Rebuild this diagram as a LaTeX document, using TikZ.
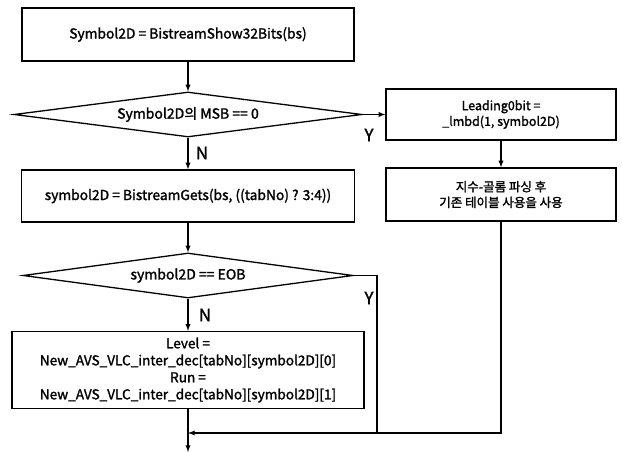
\documentclass[tikz,border=0pt]{standalone}
\usepackage{fontspec}
\setmainfont{Noto Sans CJK KR}[BoldFont={Noto Sans CJK KR}, BoldFeatures={FakeBold=1.6}]
\usetikzlibrary{shapes.geometric}

\begin{document}
\begin{tikzpicture}[x=1pt,y=-1pt,>=latex,line width=1.3pt,
    font=\bfseries\fontsize{13.8}{15.7}\selectfont,
    process/.style ={rectangle, draw, align=center, inner sep=0pt},
    side/.style ={process, minimum width=230pt, font=\bfseries\fontsize{12.5}{15.7}\selectfont},
    decision/.style ={diamond, draw, align=center, inner sep=0pt, aspect=7.5, font=\bfseries\fontsize{14}{15.7}\selectfont},
    yn/.style ={font=\bfseries\fontsize{17}{17}\selectfont}]
   \useasboundingbox (0,0) rectangle (622,452);

   \node[process, minimum width=332pt, minimum height=53pt] (start) at (188,34.5) {Symbol2D = BistreamShow32Bits(bs)};
   \node[decision, minimum width=348pt, minimum height=45pt] (msb) at (188,114.5) {Symbol2D의 MSB == 0};
   \node[side, minimum height=51pt] (lead) at (501,114.5) {Leading0bit =\\\_lmbd(1, symbol2D)};
   \node[side, minimum height=53pt] (golomb) at (501,194.5) {지수-골롬 파싱 후\\기존 테이블 사용을 사용};
   \node[process, minimum width=333pt, minimum height=52pt] (gets) at (188,196) {symbol2D = BistreamGets(bs, ((tabNo) ? 3:4))};
   \node[decision, minimum width=330pt, minimum height=45pt] (eob) at (188,275.5) {symbol2D == EOB};
   \node[process, minimum width=352pt, minimum height=77pt, font=\bfseries\fontsize{13.6}{17}\selectfont] (table) at (188,370)
      {Level =\\New\_AVS\_VLC\_inter\_dec[tabNo][symbol2D][0]\\Run =\\New\_AVS\_VLC\_inter\_dec[tabNo][symbol2D][1]};

   \coordinate (merge) at (188,433);
   \coordinate (turn) at (377,433);
   \coordinate (out) at (188,452);

   \node[yn] (y1) at (369,135) {Y};
   \node[yn] (n1) at (202,153) {N};
   \node[yn] (y2) at (369,298) {Y};
   \node[yn] (n2) at (205,315) {N};

   \draw[->] (start) -- (msb);
   \draw[->] (msb) -- (gets);
   \draw[->] (msb.east) -- (lead.west);
   \draw[->] (lead) -- (golomb);
   \draw[->] (gets) -- (eob);
   \draw[->] (eob) -- (table);

   \draw (eob.east) -| (turn);
   \draw[->] (golomb.south) |- (merge);
   \draw[->] (table) -- (out);
 \end{tikzpicture}
\end{document}
